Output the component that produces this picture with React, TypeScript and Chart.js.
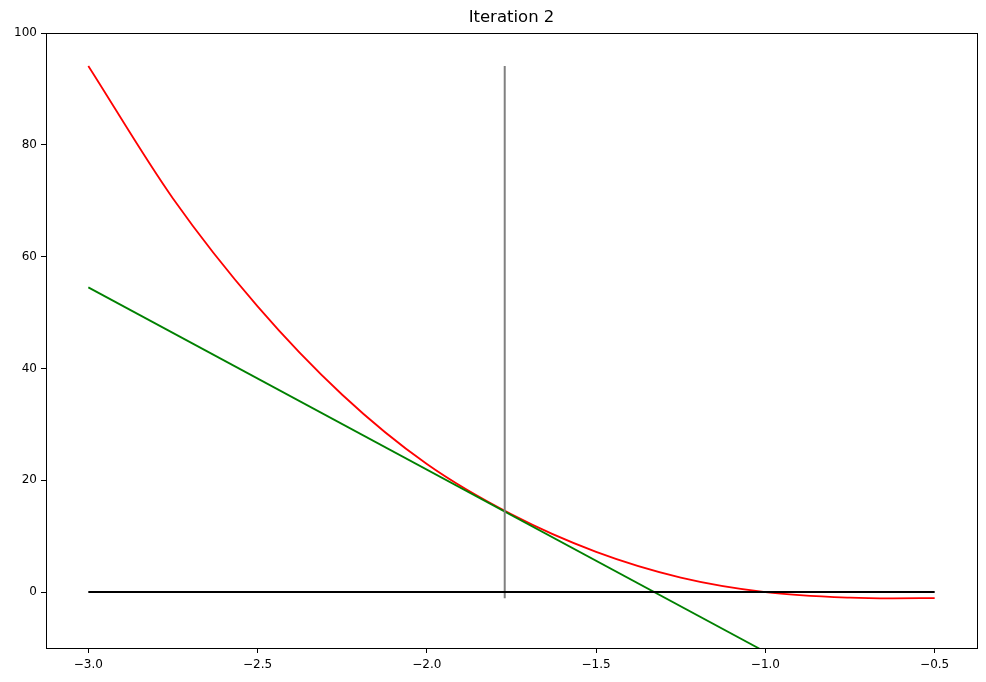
import React, { useEffect, useRef } from "react";
import { Chart, registerables } from "chart.js";

Chart.register(...registerables);

const curveX = [-3.0, -2.75, -2.5, -2.25, -2.0, -1.75, -1.5, -1.25, -1.0, -0.75, -0.625, -0.5];
const curveY = [94.1, 70.4, 51.1, 35.3, 22.9, 13.9, 7.2, 2.6, 0.0, -1.0, -1.12, -1.07];

const tangentX = [-3.0, -0.5];
const tangentY = [54.5, -27.0];

const guessX = [-1.77, -1.77];
const guessY = [-1.1, 94.1];

const axisLineX = [-3.0, -0.5];
const axisLineY = [0, 0];

const xTicks = [-3.0, -2.5, -2.0, -1.5, -1.0, -0.5];
const yTicks = [0, 20, 40, 60, 80, 100];

const titleText = "Iteration 2";

const pts = (xs: number[], ys: number[]) => xs.map((x, i) => ({ x, y: ys[i] }));
const fmt = (v: number, d: number) => v.toFixed(d).replace("-", "\u2212");

export default function App() {
  const ref = useRef<HTMLCanvasElement | null>(null);

  useEffect(() => {
    document.body.style.margin = "0";
    if (!ref.current) return;
    const frame = {
      id: "frame",
      afterDatasetsDraw(chart: any) {
        const { ctx, chartArea: a } = chart;
        ctx.save();
        ctx.strokeStyle = "#000";
        ctx.lineWidth = 1;
        ctx.strokeRect(Math.round(a.left) + 0.5, Math.round(a.top) + 0.5, Math.round(a.right - a.left), Math.round(a.bottom - a.top));
        ctx.fillStyle = "#000";
        ctx.font = "16.5px 'DejaVu Sans'";
        ctx.textAlign = "center";
        ctx.textBaseline = "middle";
        ctx.fillText(titleText, (a.left + a.right) / 2, 18);
        ctx.restore();
      },
    };
    const chart = new Chart(ref.current, {
      type: "scatter",
      data: {
        datasets: [
          { data: pts(axisLineX, axisLineY), borderColor: "#000000", borderWidth: 2, showLine: true, pointRadius: 0 },
          { data: pts(guessX, guessY), borderColor: "#808080", borderWidth: 2, showLine: true, pointRadius: 0 },
          { data: pts(tangentX, tangentY), borderColor: "#008000", borderWidth: 1.8, showLine: true, pointRadius: 0 },
          { data: pts(curveX, curveY), borderColor: "#ff0000", borderWidth: 1.8, showLine: true, pointRadius: 0, cubicInterpolationMode: "monotone" },
        ] as any,
      },
      options: {
        animation: false,
        responsive: false,
        devicePixelRatio: 1,
        layout: { padding: { top: 33, right: 9, bottom: 0, left: 0 } },
        plugins: {
          legend: { display: false },
          tooltip: { enabled: false },
          title: { display: false },
        },
        scales: {
          x: {
            type: "linear",
            min: -3.125,
            max: -0.375,
            afterBuildTicks: (s: any) => { s.ticks = xTicks.map((v) => ({ value: v })); },
            afterFit: (s: any) => { s.height = 34; },
            ticks: { color: "#000", font: { family: "DejaVu Sans", size: 12 }, padding: 5, maxRotation: 0, callback: (v: any) => fmt(Number(v), 1) },
            grid: { display: true, drawOnChartArea: false, drawTicks: true, tickLength: 5, color: "#000" },
            border: { display: true, color: "#000" },
          },
          y: {
            type: "linear",
            min: -10,
            max: 100,
            afterBuildTicks: (s: any) => { s.ticks = yTicks.map((v) => ({ value: v })); },
            afterFit: (s: any) => { s.width = 46; },
            ticks: { color: "#000", font: { family: "DejaVu Sans", size: 12 }, padding: 4, callback: (v: any) => fmt(Number(v), 0) },
            grid: { display: true, drawOnChartArea: false, drawTicks: true, tickLength: 5, color: "#000" },
            border: { display: true, color: "#000" },
          },
        },
      } as any,
      plugins: [frame],
    });
    return () => chart.destroy();
  }, []);

  return (
    <div style={{ width: 986, height: 682 }}>
      <canvas ref={ref} width={986} height={682} style={{ width: 986, height: 682, display: "block" }} />
    </div>
  );
}
